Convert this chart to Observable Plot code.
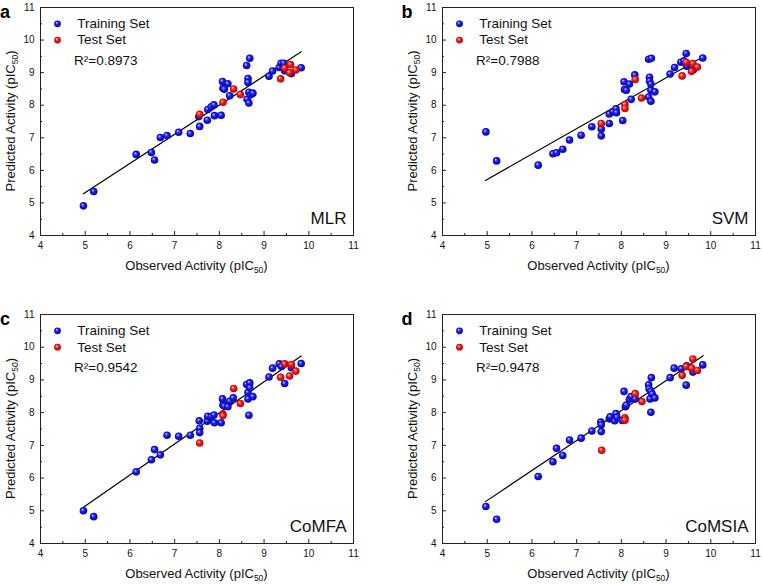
<!DOCTYPE html>
<html><head><meta charset="utf-8">
<script src="https://cdn.jsdelivr.net/npm/d3@7"></script>
<script src="https://cdn.jsdelivr.net/npm/@observablehq/plot@0.6"></script>
<style>
body{margin:0;background:#fff;}
#wrap{position:relative;width:762px;height:585px;font-family:"Liberation Sans",Arial,sans-serif;}
.panel{position:absolute;}
</style></head><body>
<svg width="0" height="0" style="position:absolute">
<defs>
<radialGradient id="gBlue" cx="50%" cy="50%" r="55%" fx="35%" fy="32%">
<stop offset="0%" stop-color="#d0d0ff"/><stop offset="40%" stop-color="#2020ff"/><stop offset="100%" stop-color="#00008c"/>
</radialGradient>
<radialGradient id="gRed" cx="50%" cy="50%" r="55%" fx="35%" fy="32%">
<stop offset="0%" stop-color="#ffd0d0"/><stop offset="40%" stop-color="#ff2020"/><stop offset="100%" stop-color="#9a0000"/>
</radialGradient>
</defs></svg>
<div id="wrap"></div>
<script>
const axisTicks = [4, 5, 6, 7, 8, 9, 10, 11];
const minorTicks = [4.5, 5.5, 6.5, 7.5, 8.5, 9.5, 10.5];
const panelLetters = ["a", "b", "c", "d"];
const modelNames = ["MLR", "SVM", "CoMFA", "CoMSIA"];
const r2Labels = ["R\u00b2=0.8973", "R\u00b2=0.7988", "R\u00b2=0.9542", "R\u00b2=0.9478"];
const legendLabels = ["Training Set", "Test Set"];

const mlrTrain = [[4.96,4.91],[5.19,5.35],[6.14,6.49],[6.48,6.55],[6.55,6.32],[6.68,7.01],[6.83,7.07],[7.09,7.17],[7.35,7.13],[7.56,7.35],[7.54,7.65],[7.73,7.54],[7.74,7.87],[7.82,7.95],[7.88,8.01],[7.89,7.68],[8.04,7.69],[8.07,8.73],[8.08,8.52],[8.11,8.49],[8.19,8.66],[8.23,8.29],[8.61,9.22],[8.68,9.44],[8.64,8.82],[8.64,8.70],[8.62,8.18],[8.66,8.07],[8.66,8.40],[8.70,8.32],[8.75,8.37],[9.11,8.89],[9.19,9.05],[9.34,9.16],[9.38,9.29],[9.44,9.29],[9.46,9.06],[9.61,8.97],[9.83,9.15]];
const mlrTest = [[7.56,7.72],[8.08,8.09],[8.32,8.50],[8.47,8.33],[9.37,8.81],[9.46,9.14],[9.59,9.25],[9.57,9.00],[9.71,9.08]];
const svmTrain = [[4.97,7.18],[5.21,6.29],[6.14,6.16],[6.47,6.51],[6.55,6.54],[6.69,6.65],[6.84,6.93],[7.10,7.08],[7.34,7.34],[7.55,7.27],[7.55,7.06],[7.73,7.44],[7.73,7.73],[7.81,7.80],[7.88,7.89],[7.89,7.77],[8.03,7.53],[8.06,8.72],[8.07,8.48],[8.11,8.46],[8.18,8.65],[8.22,8.18],[8.30,8.93],[8.61,9.41],[8.67,9.44],[8.63,8.86],[8.63,8.74],[8.61,8.25],[8.66,8.12],[8.66,8.46],[8.66,8.65],[8.75,8.41],[9.09,8.96],[9.19,9.16],[9.33,9.32],[9.40,9.36],[9.45,9.59],[9.46,9.20],[9.61,9.09],[9.82,9.45]];
const svmTest = [[7.55,7.44],[8.08,8.02],[8.08,7.90],[8.31,8.79],[8.45,8.22],[9.36,8.90],[9.45,9.32],[9.57,9.04],[9.60,9.28],[9.70,9.17]];
const comfaTrain = [[4.96,5.00],[5.19,4.82],[6.14,6.19],[6.48,6.56],[6.55,6.87],[6.68,6.71],[6.83,7.31],[7.09,7.28],[7.35,7.31],[7.55,7.75],[7.56,7.52],[7.56,7.39],[7.73,7.74],[7.74,7.89],[7.82,7.88],[7.88,7.93],[7.89,7.69],[8.04,7.69],[8.07,8.42],[8.08,8.23],[8.11,8.20],[8.19,8.18],[8.23,8.35],[8.31,8.45],[8.61,8.86],[8.68,8.91],[8.64,8.62],[8.64,8.42],[8.66,7.92],[8.68,8.76],[8.75,8.49],[9.11,9.09],[9.19,9.36],[9.34,9.49],[9.39,9.41],[9.46,8.89],[9.61,9.37],[9.83,9.50]];
const comfaTest = [[7.56,7.07],[8.08,7.96],[8.08,7.91],[8.32,8.74],[8.47,8.28],[9.37,9.08],[9.46,9.49],[9.61,9.47],[9.57,9.12],[9.71,9.27]];
const comsiaTrain = [[4.97,5.13],[5.21,4.74],[6.14,6.05],[6.47,6.50],[6.55,6.91],[6.69,6.69],[6.84,7.16],[7.10,7.22],[7.34,7.44],[7.54,7.71],[7.55,7.63],[7.55,7.42],[7.73,7.81],[7.75,7.87],[7.85,7.75],[7.88,7.97],[7.90,7.86],[8.02,7.76],[8.06,8.65],[8.09,8.18],[8.11,8.23],[8.18,8.41],[8.22,8.49],[8.31,8.42],[8.61,8.85],[8.62,8.73],[8.67,9.07],[8.64,8.42],[8.66,8.01],[8.66,8.65],[8.69,8.57],[8.75,8.45],[9.09,9.07],[9.18,9.36],[9.34,9.34],[9.46,9.43],[9.45,8.84],[9.60,9.24],[9.82,9.46]];
const comsiaTest = [[7.56,6.85],[8.08,7.84],[8.08,7.77],[8.31,8.58],[8.46,8.34],[9.36,9.14],[9.45,9.41],[9.57,9.36],[9.60,9.64],[9.70,9.29]];

const fitObs = [4.96, 9.83];
const mlrFit = [5.28, 9.64];
const svmFit = [5.69, 9.49];
const comfaFit = [5.11, 9.73];
const comsiaFit = [5.28, 9.74];

const trainSets = [mlrTrain, svmTrain, comfaTrain, comsiaTrain];
const testSets = [mlrTest, svmTest, comfaTest, comsiaTest];
const fitSets = [mlrFit, svmFit, comfaFit, comsiaFit];

const layouts = [
  {left: 0, top: 0, height: 290, mt: 7, mb: 55},
  {left: 402, top: 0, height: 290, mt: 7, mb: 55},
  {left: 0, top: 293, height: 292, mt: 21, mb: 42},
  {left: 402, top: 293, height: 292, mt: 21, mb: 42}
];
const W = 360, ML = 40, MR = 7;
const font = "'Liberation Sans', Arial, sans-serif";
const wrap = document.getElementById("wrap");

for (let i = 0; i < 4; i++) {
  const L = layouts[i];
  const fit = fitObs.map((x, j) => ({x, y: fitSets[i][j]}));
  const svg = Plot.plot({
    width: W, height: L.height,
    marginLeft: ML, marginRight: MR, marginTop: L.mt, marginBottom: L.mb,
    style: {fontFamily: font, background: "transparent", color: "#111", overflow: "visible"},
    x: {domain: [4, 11], label: null},
    y: {domain: [4, 11], label: null},
    marks: [
      Plot.axisX(axisTicks, {tickSize: 0, tickPadding: 6, fontSize: 10, fill: "#111"}),
      Plot.axisX(axisTicks, {text: null, tickSize: -4, stroke: "#222"}),
      Plot.axisX(minorTicks, {text: null, tickSize: -2, stroke: "#222"}),
      Plot.axisY(axisTicks, {tickSize: 0, tickPadding: 6, fontSize: 10, fill: "#111"}),
      Plot.axisY(axisTicks, {text: null, tickSize: -4, stroke: "#222"}),
      Plot.axisY(minorTicks, {text: null, tickSize: -2, stroke: "#222"}),
      Plot.line(fit, {x: "x", y: "y", stroke: "#000", strokeWidth: 1.2}),
      Plot.dot(trainSets[i], {x: d => d[0], y: d => d[1], r: 3.8, fill: "url(#gBlue)"}),
      Plot.dot(testSets[i], {x: d => d[0], y: d => d[1], r: 3.8, fill: "url(#gRed)"}),
      Plot.dot([{x: 4.38, y: 10.5}], {x: "x", y: "y", r: 3.4, fill: "url(#gBlue)"}),
      Plot.dot([{x: 4.38, y: 10.0}], {x: "x", y: "y", r: 3.4, fill: "url(#gRed)"}),
      Plot.text([{x: 4.82, y: 10.5, t: legendLabels[0]}, {x: 4.82, y: 10.0, t: legendLabels[1]}],
        {x: "x", y: "y", text: "t", textAnchor: "start", fontSize: 13.5, fill: "#111"}),
      Plot.text([{x: 4.75, y: 9.38, t: r2Labels[i]}], {x: "x", y: "y", text: "t", textAnchor: "start", fontSize: 13.5, fill: "#111"}),
      Plot.text([modelNames[i]], {text: d => d, frameAnchor: "bottom-right", lineAnchor: "middle", textAnchor: "end", dx: -7, dy: -17, fontSize: 17, fill: "#111"}),
      Plot.frame({stroke: "#222", strokeWidth: 1})
    ]
  });
  const s = d3.select(svg);
  const frameBottom = L.height - L.mb;
  const pw = W - ML - MR;
  const xt = s.append("text").attr("x", ML + pw / 2).attr("y", frameBottom + 35)
    .attr("text-anchor", "middle").attr("font-size", 13).attr("fill", "#111").attr("font-family", font);
  xt.append("tspan").text("Observed Activity (pIC");
  xt.append("tspan").attr("font-size", 8.5).attr("dy", 3).text("50");
  xt.append("tspan").attr("dy", -3).text(")");
  const yc = (L.mt + frameBottom) / 2;
  const yt = s.append("text").attr("transform", `translate(15,${yc}) rotate(-90)`)
    .attr("text-anchor", "middle").attr("font-size", 13).attr("fill", "#111").attr("font-family", font);
  yt.append("tspan").text("Predicted Activity (pIC");
  yt.append("tspan").attr("font-size", 8.5).attr("dy", 3).text("50");
  yt.append("tspan").attr("dy", -3).text(")");
  s.append("text").attr("x", 5).attr("y", L.mt + 11).attr("font-size", 18).attr("font-weight", "bold")
    .attr("fill", "#000").attr("font-family", font).text(panelLetters[i]);
  const div = document.createElement("div");
  div.className = "panel";
  div.style.left = L.left + "px";
  div.style.top = L.top + "px";
  div.appendChild(svg);
  wrap.appendChild(div);
}
</script>
</body></html>
